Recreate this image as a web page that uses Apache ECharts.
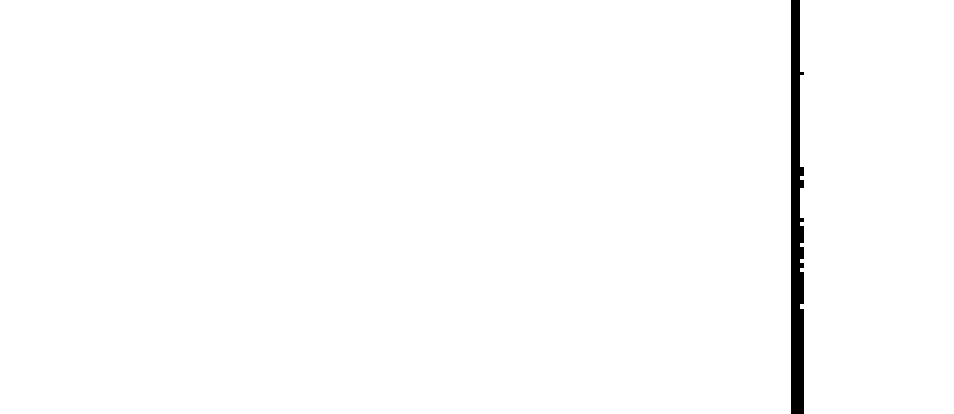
<!DOCTYPE html>
<html>
<head>
<meta charset="utf-8">
<script src="https://cdn.jsdelivr.net/npm/echarts@6/dist/echarts.min.js"></script>
<style>
  html, body { margin: 0; padding: 0; background: #fff; }
  #main { width: 954px; height: 414px; }
</style>
</head>
<body>
<div id="main"></div>
<script>
// main strip: left / right edge and top / bottom
var stripLeft = [791];
var stripRight = [800];
var stripTop = [0];
var stripBottom = [414];

// short pieces that stick out on the right side of the strip
var tickTop = [72, 167, 180, 218, 226, 247, 263, 272, 309];
var tickBottom = [75, 176, 188, 222, 243, 259, 268, 304, 414];
var tickRight = [804, 804, 804, 804, 804, 804, 804, 804, 804];

var rects = [];
for (var i = 0; i < stripLeft.length; i++) {
    rects.push([stripLeft[i], stripRight[i], stripTop[i], stripBottom[i]]);
}
for (var j = 0; j < tickTop.length; j++) {
    rects.push([stripRight[0], tickRight[j], tickTop[j], tickBottom[j]]);
}

var chart = echarts.init(document.getElementById('main'));
var option = {
    backgroundColor: '#ffffff',
    animation: false,
    grid: { left: 0, right: 0, top: 0, bottom: 0 },
    xAxis: { type: 'value', min: 0, max: 954, show: false },
    yAxis: { type: 'value', min: 0, max: 414, inverse: true, show: false },
    series: [{
        type: 'custom',
        data: rects,
        renderItem: function (params, api) {
            var p0 = api.coord([api.value(0), api.value(2)]);
            var p1 = api.coord([api.value(1), api.value(3)]);
            return {
                type: 'rect',
                shape: {
                    x: Math.min(p0[0], p1[0]),
                    y: Math.min(p0[1], p1[1]),
                    width: Math.abs(p1[0] - p0[0]),
                    height: Math.abs(p1[1] - p0[1])
                },
                style: { fill: '#000000' }
            };
        }
    }]
};
chart.setOption(option);
</script>
</body>
</html>
